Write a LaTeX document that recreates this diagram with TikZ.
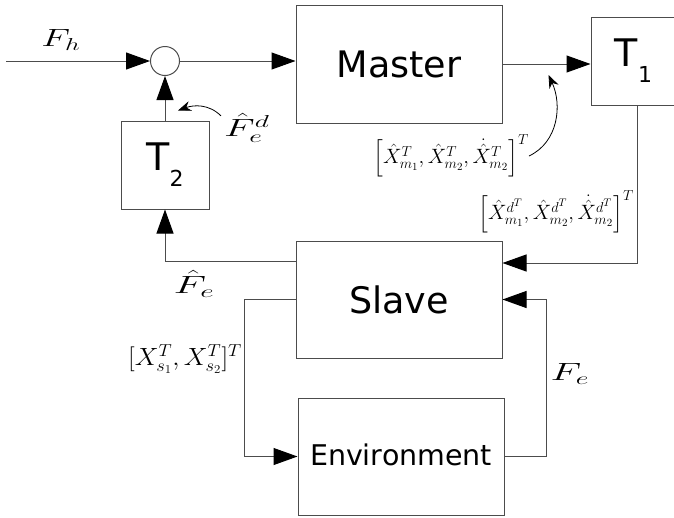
\documentclass[tikz,border=0pt]{standalone}
\usepackage{amsmath}
\usepackage{graphicx}
\usepackage{fontspec}
\setsansfont{DejaVu Sans}
\usetikzlibrary{
    positioning,  % For placing blocks relative to each other (e.g., below=of)
    arrows.meta,  % For the filled triangle tips
    calc          % For shifted anchor points
}

\begin{document}
\begin{tikzpicture}[
    x=1pt, y=1pt,
    % Style for the blocks of the loop
    box_style/.style={
        rectangle,
        draw=black!70,
        line width=1pt,
        inner sep=0pt,
        minimum width=206pt,
        minimum height=117pt,
        font=\sffamily\fontsize{36.5}{40}\selectfont
    },
    % Style for the signal wires
    wire_style/.style={
        draw=black!70,
        line width=1pt
    },
    % Big filled arrowheads on the wires
    flow_tip/.style={
        -{Triangle[length=24pt, width=17pt, black]}
    },
    % Thin curved pointer from a label to its wire
    note_arrow/.style={
        black,
        line width=0.8pt,
        -{Stealth[length=13pt, width=10pt]}
    },
    % Signal names (math)
    math_label/.style={
        font=\fontsize{25}{30}\selectfont,
        inner sep=0pt
    },
    % Signal vectors (smaller math)
    vec_label/.style={
        font=\fontsize{21}{25}\selectfont,
        inner sep=0pt
    }
]
    % 0. Page frame
    \useasboundingbox (0,0) rectangle (674,-517);
    \clip (0,0) rectangle (674,-517);

    % 1. Blocks and the summing junction
    \node[box_style, minimum height=118pt] (master) at (399,-64) {Master};
    \node[box_style, below=117pt of master] (slave) {Slave};
    \node[box_style, below=39pt of slave, xshift=2pt,
          font=\sffamily\fontsize{28.5}{32}\selectfont] (env) {\raisebox{3.5pt}{Environment}};
    \node[box_style, minimum width=85pt, minimum height=88pt,
          right=88pt of master, yshift=3pt, font=\sffamily\fontsize{38}{40}\selectfont]
        (t1) {T\raisebox{-16pt}{\fontsize{22}{24}\selectfont 1}};
    \node[circle, draw=black!70, line width=1pt, fill=white, minimum size=29pt,
          inner sep=0pt] (sum) at (165,-61) {};
    \node[box_style, minimum width=88pt, minimum height=88pt,
          below=44.5pt of sum, font=\sffamily\fontsize{38}{40}\selectfont]
        (t2) {T\raisebox{-16pt}{\fontsize{22}{24}\selectfont 2}};

    % 2. Wires of the loop
    \coordinate (input_start) at (6,-61);
    \draw[wire_style, flow_tip] (input_start) -- (sum.west);
    \draw[wire_style, flow_tip] (sum.east) -- (sum.east -| master.west);
    \draw[wire_style, flow_tip] (master.east) -- (master.east -| t1.west);
    \draw[wire_style, flow_tip] ([xshift=3.5pt]t1.south) |- ([yshift=36.5pt]slave.east);
    \draw[wire_style, flow_tip] ([yshift=38.5pt]slave.west) -| (t2.south);
    \draw[wire_style, flow_tip] (t2.north) -- (sum.south);
    \draw[wire_style, flow_tip] (slave.west) -- ++(-51,0) |- (env.west);
    \draw[wire_style, flow_tip] (env.east) -- ++(42,0) |- (slave.east);

    % 3. Signal names (stretched sideways)
    \node[math_label] (f_h) at (61,-40) {\scalebox{1.5}[1]{$F_h$}};
    \node[math_label] (f_e_hat) at (194,-284) {\scalebox{1.7}[1]{$\hat{F}_e$}};
    \node[math_label] (f_e_hat_d) at (247,-128) {\scalebox{1.6}[1]{$\hat{F}_e^d$}};
    \node[math_label] (f_e) at (570,-374) {\scalebox{1.6}[1]{$F_e$}};
    \node[math_label] (x_s) at (185,-359) {\scalebox{1.07}[1]{$[X_{s_1}^T, X_{s_2}^T]^T$}};
    \node[vec_label] (x_m) at (451,-156)
        {$\left[\hat{X}_{m_1}^T, \hat{X}_{m_2}^T, \dot{\hat{X}}_{m_2}^T\right]^T$};
    \node[vec_label] (x_m_d) at (556,-212)
        {$\left[\hat{X}_{m_1}^{d^T}, \hat{X}_{m_2}^{d^T}, \dot{\hat{X}}_{m_2}^{d^T}\right]^T$};

    % 4. Curved pointers from the labels to their wires
    \draw[note_arrow] ([shift={(-3pt,-3pt)}]f_e_hat_d.north west) to[out=135, in=20]
        ([shift={(13pt,10pt)}]t2.north);
    \draw[note_arrow] (x_m.east) to[out=25, in=-65] ([shift={(46pt,-11pt)}]master.east);

\end{tikzpicture}
\end{document}
